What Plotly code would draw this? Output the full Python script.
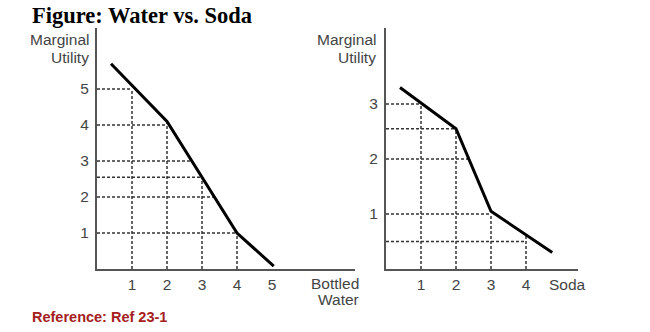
import plotly.graph_objects as go

W, H = 650, 332

# ---- data ----
water_q = [0.4, 2, 4, 5.05]
water_mu = [5.7, 4.1, 1, 0.08]
water_h_levels = [5, 4, 3, 2.55, 2, 1]
water_h_ends = [1, 2, 2.7, 3, 3.35, 4]
water_v_q = [1, 2, 3, 4]
water_v_tops = [5, 4.1, 2.55, 1]
water_xticks = [1, 2, 3, 4, 5]
water_yticks = [1, 2, 3, 4, 5]

soda_q = [0.4, 2, 3, 4.75]
soda_mu = [3.3, 2.55, 1.05, 0.3]
soda_h_levels = [3, 2.55, 2, 1, 0.5]
soda_h_ends = [1, 2, 2.37, 3, 4]
soda_v_q = [1, 2, 3, 4]
soda_v_tops = [3, 2.55, 1, 0.6]
soda_xticks = [1, 2, 3, 4]
soda_yticks = [1, 2, 3]

# ---- layout helpers (pixel -> paper) ----
def px(x):
    return x / W

def py(y):
    return 1 - y / H

AXC = "#555555"
TXT = "#444444"
GUIDE = "#333333"
SANS = "Liberation Sans, Arial"
FS = 15.5

fig = go.Figure()

def add_panel(xa, ya, q, mu, hl, he, vq, vt):
    xs, ys = [], []
    for lvl, end in zip(hl, he):
        xs += [0, end, None]
        ys += [lvl, lvl, None]
    for xq, top in zip(vq, vt):
        xs += [xq, xq, None]
        ys += [0, top, None]
    fig.add_trace(go.Scatter(x=xs, y=ys, mode="lines", xaxis=xa, yaxis=ya,
                             line=dict(color=GUIDE, width=1.5, dash="3px,2px"),
                             hoverinfo="skip", showlegend=False))
    fig.add_trace(go.Scatter(x=q, y=mu, mode="lines", xaxis=xa, yaxis=ya,
                             line=dict(color="black", width=3),
                             showlegend=False))

add_panel("x", "y", water_q, water_mu, water_h_levels, water_h_ends, water_v_q, water_v_tops)
add_panel("x2", "y2", soda_q, soda_mu, soda_h_levels, soda_h_ends, soda_v_q, soda_v_tops)

tickfont = dict(family=SANS, size=FS, color=TXT)
common_x = dict(showgrid=False, zeroline=False, showline=True, linecolor=AXC, linewidth=2,
                ticks="", tickfont=tickfont, fixedrange=True)
common_y = dict(showgrid=False, zeroline=False, showline=True, linecolor=AXC, linewidth=2,
                ticks="outside", ticklen=3, tickcolor="rgba(0,0,0,0)", tickfont=tickfont,
                fixedrange=True)

fig.update_layout(
    xaxis=dict(common_x, domain=[px(97), px(355)], range=[0, (355 - 97) / 35],
               tickvals=water_xticks, anchor="y"),
    yaxis=dict(common_y, domain=[py(269), py(28)], range=[0, (269 - 28) / 36],
               tickvals=water_yticks, anchor="x"),
    xaxis2=dict(common_x, domain=[px(386), px(578)], range=[0, (578 - 386) / 35],
                tickvals=soda_xticks, anchor="y2"),
    yaxis2=dict(common_y, domain=[py(269), py(28)], range=[0, (269 - 28) / 55],
                tickvals=soda_yticks, anchor="x2"),
)

def lab(text, x, y, anchor="right", size=FS, color=TXT, family=SANS):
    return dict(text=text, x=px(x), y=py(y), xanchor=anchor, yanchor="middle",
                font=dict(family=family, size=size, color=color))

anns = [
    lab("<b>Figure: Water vs. Soda</b>", 30, 15, "left", 22.5, "black", "Liberation Serif, Times New Roman"),
    lab("Marginal", 91, 40), lab("Utility", 91, 57),
    lab("Marginal", 378, 40), lab("Utility", 378, 57),
    lab("Bottled", 361, 283), lab("Water", 361, 299),
    lab("Soda", 547, 284, "left"),
    lab("<b>Reference: Ref 23-1</b>", 30, 317, "left", 14.5, "#a52020"),
]
for a in anns:
    a.update(xref="paper", yref="paper", showarrow=False)

fig.update_layout(
    width=W, height=H, margin=dict(l=0, r=0, t=0, b=0),
    paper_bgcolor="white", plot_bgcolor="white",
    annotations=anns, showlegend=False,
)

fig.write_html("out.html", config={"displayModeBar": False})
